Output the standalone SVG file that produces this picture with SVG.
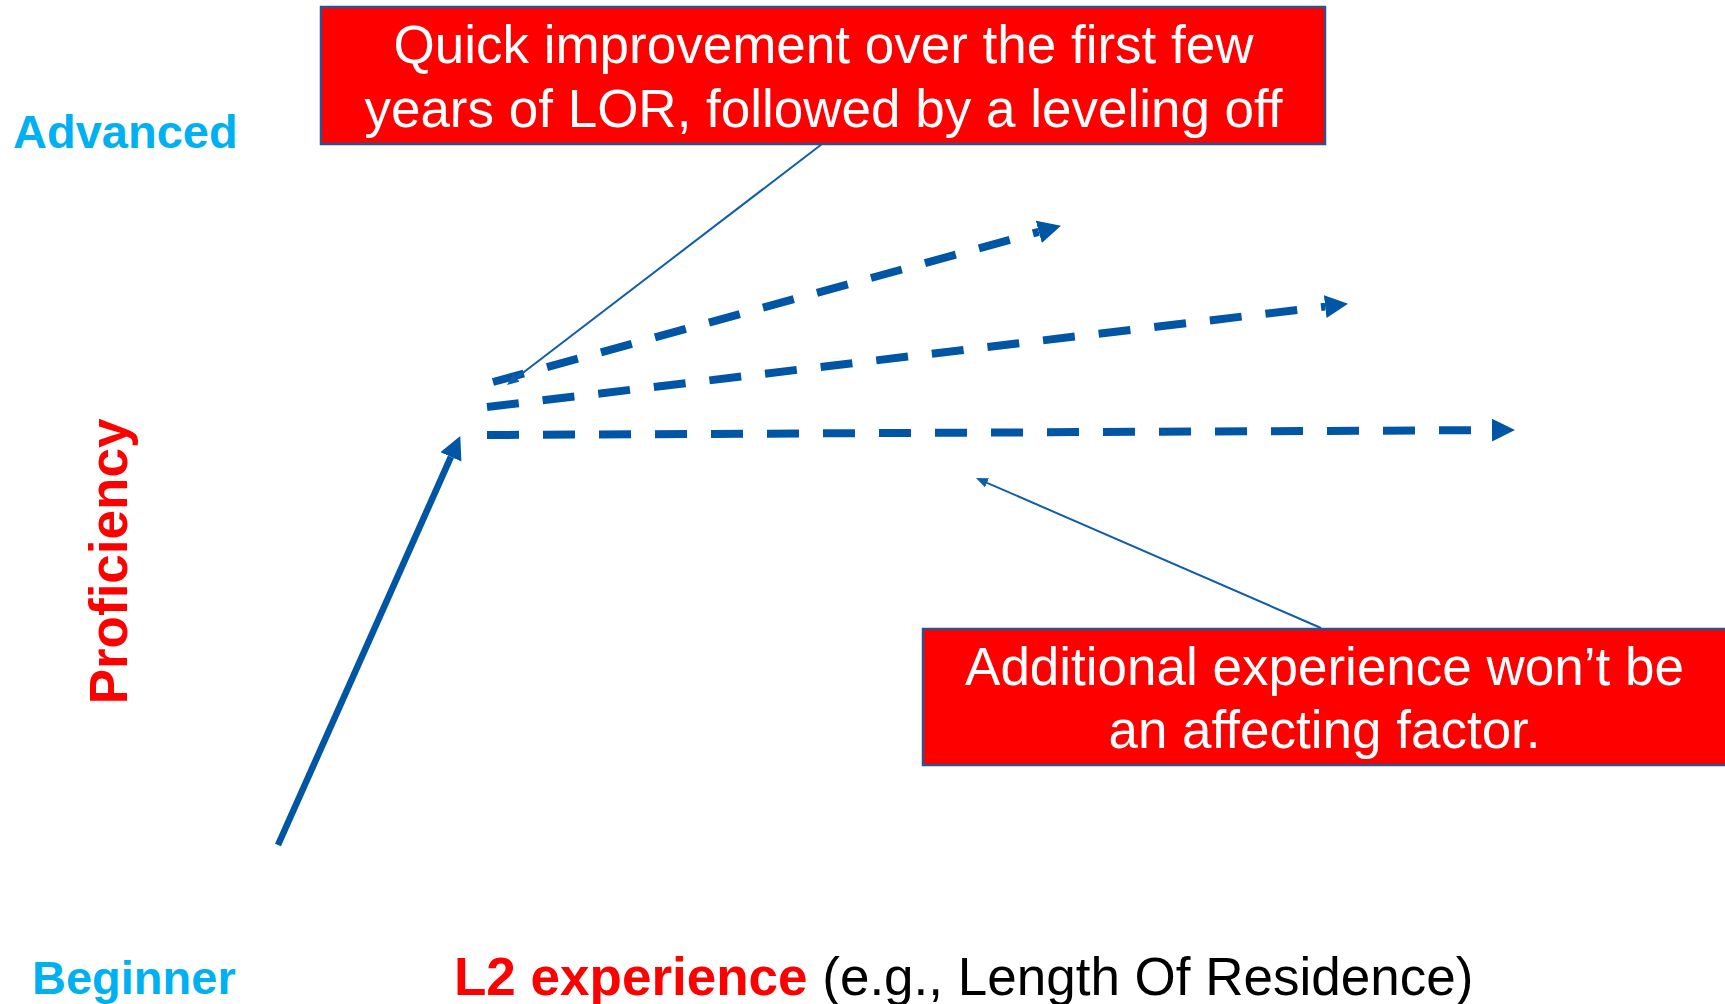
<svg xmlns="http://www.w3.org/2000/svg" width="1725" height="1004" viewBox="0 0 1725 1004">
  <style>
    .callout { fill: #FF0000; stroke: #2F528F; stroke-width: 2.5; }
    .callout-text { font-family: "Liberation Sans", Arial, sans-serif; font-size: 53px; fill: #FFFFFF; text-anchor: middle; }
    .level { font-family: "Liberation Sans", Arial, sans-serif; font-size: 47px; font-weight: bold; fill: #00B0F0; }
    .axis { font-family: "Liberation Sans", Arial, sans-serif; font-size: 53px; }
    .trend { fill: none; stroke: #0055A5; stroke-width: 8; stroke-dasharray: 32 24; }
    .growth { fill: none; stroke: #0055A5; stroke-width: 6.5; }
    .pointer { fill: none; stroke: #105DAA; stroke-width: 2; }
  </style>
  <defs>
    <marker id="head-big" markerUnits="userSpaceOnUse" markerWidth="26" markerHeight="26" refX="0" refY="11.5" orient="auto">
      <path d="M0,0 L23,11.5 L0,23 Z" fill="#0055A5"/>
    </marker>
    <marker id="head-small" markerUnits="userSpaceOnUse" markerWidth="14" markerHeight="12" refX="0" refY="5" orient="auto">
      <path d="M0,0 L12,5 L0,10 Z" fill="#105DAA"/>
    </marker>
  </defs>

  <rect width="1725" height="1004" fill="#FFFFFF"/>

  <!-- axis labels -->
  <g id="label-advanced">
    <text class="level" x="13" y="148">Advanced</text>
  </g>
  <g id="label-beginner">
    <text class="level" x="32" y="994">Beginner</text>
  </g>
  <g id="label-proficiency">
    <text class="axis" x="0" y="0" transform="translate(127,561.5) rotate(-90)" text-anchor="middle" font-weight="bold" fill="#FF0000">Proficiency</text>
  </g>
  <g id="label-experience">
    <text class="axis" x="454" y="995"><tspan font-weight="bold" fill="#FF0000">L2 experience</tspan><tspan fill="#000000"> (e.g., Length Of Residence)</tspan></text>
  </g>

  <!-- callout boxes -->
  <g id="callout-quick">
    <rect class="callout" x="321" y="7" width="1004" height="137"/>
    <text class="callout-text" x="823.5" y="63">Quick improvement over the first few</text>
    <text class="callout-text" x="823.5" y="126.5">years of LOR, followed by a leveling off</text>
  </g>
  <g id="callout-additional">
    <rect class="callout" x="923" y="629" width="806" height="136"/>
    <text class="callout-text" x="1324.5" y="685">Additional experience won’t be</text>
    <text class="callout-text" x="1324.5" y="748">an affecting factor.</text>
  </g>

  <!-- connectors -->
  <g id="connectors">
    <line class="growth" x1="278" y1="845" x2="450.9" y2="456.9" marker-end="url(#head-big)"/>
    <line class="trend" x1="493" y1="382" x2="1038.8" y2="231.8" marker-end="url(#head-big)"/>
    <line class="trend" x1="487" y1="407" x2="1325.2" y2="306.6" marker-end="url(#head-big)"/>
    <line class="trend" x1="487" y1="435" x2="1492" y2="430.1" marker-end="url(#head-big)"/>
    <line class="pointer" x1="822" y1="144" x2="516.5" y2="377.7" marker-end="url(#head-small)"/>
    <line class="pointer" x1="1321" y1="628" x2="987" y2="482.8" marker-end="url(#head-small)"/>
  </g>
</svg>
